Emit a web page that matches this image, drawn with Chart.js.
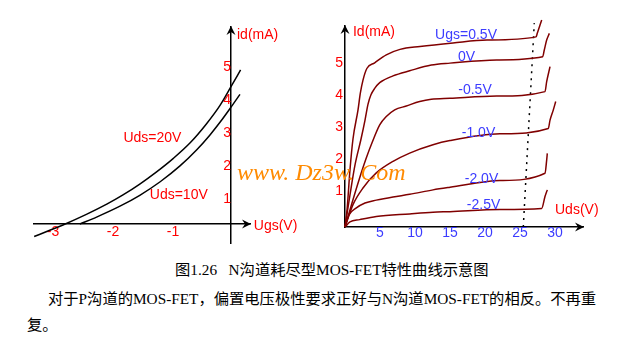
<!DOCTYPE html>
<html>
<head>
<meta charset="utf-8">
<script src="https://cdn.jsdelivr.net/npm/chart.js@4"></script>
<style>
  body { margin: 0; background: #fff; width: 639px; height: 338px; position: relative; overflow: hidden; }
  canvas { position: absolute; top: 0; }
  #left { left: 0; }
  #right { left: 320px; }
  .mark { position: absolute; left: 237px; top: 160px; font-family: "Liberation Serif", serif; font-style: italic;
          font-size: 24px; line-height: 24px; color: #ff8a00; white-space: nowrap; letter-spacing: 0; z-index: 2; }
  .txt { position: absolute; font-family: "Liberation Serif", "Noto Sans CJK SC", serif; font-size: 15.3px;
         line-height: 15px; color: #000; white-space: nowrap; }
</style>
</head>
<body>
<canvas id="left" width="320" height="250"></canvas>
<canvas id="right" width="319" height="250"></canvas>
<div class="mark">www. Dz3w. Com</div>
<div class="txt" style="left:175px; top:262px;">图1.26&nbsp;&nbsp; N沟道耗尽型MOS-FET特性曲线示意图</div>
<div class="txt" style="left:48px; top:291px;">对于P沟道的MOS-FET，偏置电压极性要求正好与N沟道MOS-FET的相反。不再重</div>
<div class="txt" style="left:27px; top:317px;">复。</div>
<script>
// left chart: id vs Ugs
const leftXTicks = [-3, -2, -1];
const leftYTicks = [1, 2, 3, 4, 5];
const ugs20 = [-3.28, -3.02, -2.80, -2.41, -2.07, -1.80, -1.52, -1.24, -0.96, -0.68, -0.41, -0.18, 0, 0.16];
const id20 = [-0.38, -0.19, -0.03, 0.29, 0.60, 0.88, 1.21, 1.58, 1.99, 2.46, 3.03, 3.60, 4.16, 4.67];
const ugs10 = [-2.52, -2.24, -1.85, -1.52, -1.18, -0.85, -0.57, -0.35, -0.18, 0, 0.15];
const id10 = [0, 0.21, 0.54, 0.87, 1.28, 1.76, 2.25, 2.70, 3.09, 3.54, 3.93];

// right chart: Id vs Uds, one curve per Ugs
const rightXTicks = [5, 10, 15, 20, 25, 30];
const rightYTicks = [1, 2, 3, 4, 5];
const curveLabels = ["Ugs=0.5V", "0V", "-0.5V", "-1.0V", "-2.0V", "-2.5V"];
const udsP05 = [0, 0.29, 0.71, 1.14, 1.86, 2.19, 2.57, 3.14, 4.24, 5.9, 7.86, 10.71, 15.43, 20.29, 27.29, 27.47, 27.86, 28.1];
const idP05 = [0, 0.53, 1.78, 2.75, 3.66, 4.18, 4.59, 4.96, 5.13, 5.38, 5.55, 5.64, 5.75, 5.84, 5.94, 6.05, 6.31, 6.47];
const uds0 = [0, 0.71, 1.43, 2.29, 2.86, 3.29, 3.71, 4.24, 4.96, 6.86, 9.24, 12.33, 15, 21.67, 28.24, 28.47, 28.81, 29.19];
const id0 = [0, 1.0, 1.94, 2.75, 3.34, 3.84, 4.13, 4.33, 4.51, 4.72, 4.88, 5.06, 5.12, 5.22, 5.32, 5.53, 5.84, 6.05];
const udsM05 = [0, 1, 2, 3, 3.86, 4.96, 5.9, 7.1, 8.76, 10.67, 12.33, 15, 21.67, 28.57, 28.81, 29.29];
const idM05 = [0, 0.75, 1.47, 2.13, 2.63, 3.19, 3.45, 3.66, 3.78, 3.92, 3.99, 4.02, 4.09, 4.23, 4.54, 5.01];
const udsM10 = [0, 1.14, 2.57, 4.47, 6.86, 9.24, 12.57, 15, 22.14, 29.04, 29.29, 29.76, 30.1];
const idM10 = [0, 0.7, 1.22, 1.69, 2.05, 2.31, 2.57, 2.7, 2.91, 3.08, 3.34, 3.66, 3.92];
const udsM20 = [0, 0.57, 1.57, 2.86, 4.47, 6.86, 9.24, 12.57, 15, 22.14, 28.57, 28.81, 28.9];
const idM20 = [0, 0.38, 0.59, 0.75, 0.84, 0.94, 1.02, 1.16, 1.24, 1.45, 1.68, 2.09, 2.3];
const udsM25 = [0, 0.71, 2.1, 4.47, 9.24, 12.57, 15, 22.14, 28.1, 28.57, 28.9];
const idM25 = [0, 0.16, 0.23, 0.33, 0.41, 0.46, 0.48, 0.55, 0.58, 0.95, 1.16];
// dotted boundary line
const boundUds = [25.47, 27.04];
const boundId = [0, 6.37];

const RED = "#ff0000";
const BLUE = "#3c3cff";
const CURVE = "#800000";
const SANS = '"Liberation Sans", Arial, sans-serif';

const pts = (xs, ys) => xs.map((x, i) => ({ x, y: ys[i] }));

function drawArrow(ctx, x, y, dir) {
  ctx.save();
  ctx.translate(x, y);
  if (dir === "right") ctx.rotate(Math.PI / 2);
  ctx.beginPath();
  ctx.moveTo(0, -1);
  ctx.lineTo(-4.5, 8);
  ctx.lineTo(0, 5);
  ctx.lineTo(4.5, 8);
  ctx.closePath();
  ctx.fillStyle = "#000";
  ctx.fill();
  ctx.restore();
}

// texts are placed in data units, arrows at the axis ends
function decor(texts, arrows) {
  return {
    id: "decor",
    afterDatasetsDraw(chart) {
      const ctx = chart.ctx;
      const xs = chart.scales.x, ys = chart.scales.y;
      ctx.save();
      arrows(chart).forEach(a => drawArrow(ctx, a.x, a.y, a.dir));
      ctx.font = "14px " + SANS;
      ctx.textBaseline = "middle";
      texts.forEach(t => {
        ctx.fillStyle = t.color;
        ctx.textAlign = t.align || "center";
        ctx.fillText(t.text, xs.getPixelForValue(t.x), ys.getPixelForValue(t.y));
      });
      ctx.restore();
    }
  };
}

const line = (data, color, extra) => Object.assign({
  data, borderColor: color, borderWidth: 1.5, pointRadius: 0,
  cubicInterpolationMode: "monotone", clip: false, fill: false
}, extra || {});

const tickFont = { size: 14, family: SANS };

new Chart(document.getElementById("left"), {
  type: "line",
  data: {
    datasets: [
      line(pts(ugs20, id20), "#000"),
      line(pts(ugs10, id10), "#000")
    ]
  },
  options: {
    responsive: false, animation: false, events: [],
    layout: { padding: { left: 34, right: 70, top: 27, bottom: 7 } },
    plugins: { legend: { display: false }, tooltip: { enabled: false } },
    scales: {
      x: {
        type: "linear", min: -3.283, max: 0.317, position: { y: 0 },
        grid: { display: false, drawTicks: false },
        border: { color: "#000", width: 1.5 },
        ticks: { color: RED, font: tickFont, padding: 0, labelOffset: 2, autoSkip: false, maxRotation: 0 },
        afterBuildTicks: s => { s.ticks = leftXTicks.map(v => ({ value: v })); }
      },
      y: {
        type: "linear", min: -0.576, max: 5.97, position: { x: 0 },
        grid: { display: false, drawTicks: false },
        border: { color: "#000", width: 1.5 },
        ticks: { color: RED, font: tickFont, padding: -7, labelOffset: 8, autoSkip: false },
        afterBuildTicks: s => { s.ticks = leftYTicks.map(v => ({ value: v })); }
      }
    }
  },
  plugins: [decor([
    { text: "id(mA)", x: 0.1, y: 5.73, align: "left", color: RED },
    { text: "Ugs(V)", x: 0.38, y: -0.06, align: "left", color: RED },
    { text: "Uds=20V", x: -1.31, y: 2.61, color: RED },
    { text: "Uds=10V", x: -0.87, y: 0.88, color: RED }
  ], c => [
    { x: c.scales.x.getPixelForValue(0), y: c.chartArea.top, dir: "up" },
    { x: c.chartArea.right, y: c.scales.y.getPixelForValue(0), dir: "right" }
  ])]
});

new Chart(document.getElementById("right"), {
  type: "line",
  data: {
    datasets: [
      line(pts(udsP05, idP05), CURVE),
      line(pts(uds0, id0), CURVE),
      line(pts(udsM05, idM05), CURVE),
      line(pts(udsM10, idM10), CURVE),
      line(pts(udsM20, idM20), CURVE),
      line(pts(udsM25, idM25), CURVE),
      line(pts(boundUds, boundId), "#000", { borderDash: [2, 5], cubicInterpolationMode: "default" })
    ]
  },
  options: {
    responsive: false, animation: false, events: [],
    layout: { padding: { left: 0, right: 56, top: 26, bottom: 0 } },
    plugins: { legend: { display: false }, tooltip: { enabled: false } },
    scales: {
      x: {
        type: "linear", min: 0, max: 34, position: "bottom",
        grid: { display: false, drawTicks: false },
        border: { color: "#000", width: 1.5 },
        ticks: { color: BLUE, font: tickFont, padding: -2, autoSkip: false, maxRotation: 0 },
        afterBuildTicks: s => { s.ticks = rightXTicks.map(v => ({ value: v })); },
        afterFit: s => { s.height = 23; }
      },
      y: {
        type: "linear", min: 0, max: 6.28, position: "left",
        grid: { display: false, drawTicks: false },
        border: { color: "#000", width: 1.5 },
        ticks: { color: RED, font: tickFont, padding: 2, labelOffset: -4, autoSkip: false },
        afterBuildTicks: s => { s.ticks = rightYTicks.map(v => ({ value: v })); },
        afterFit: s => { s.width = 25; }
      }
    }
  },
  plugins: [decor([
    { text: "Id(mA)", x: 1.14, y: 6.09, align: "left", color: RED },
    { text: "Uds(V)", x: 30, y: 0.53, align: "left", color: RED },
    { text: curveLabels[0], x: 17.29, y: 6.0, color: BLUE },
    { text: curveLabels[1], x: 17.36, y: 5.31, color: BLUE },
    { text: curveLabels[2], x: 18.57, y: 4.28, color: BLUE },
    { text: curveLabels[3], x: 19.07, y: 2.94, color: BLUE },
    { text: curveLabels[4], x: 19.5, y: 1.5, color: BLUE },
    { text: curveLabels[5], x: 19.79, y: 0.69, color: BLUE }
  ], c => [
    { x: c.chartArea.left, y: c.chartArea.top, dir: "up" },
    { x: c.chartArea.right, y: c.chartArea.bottom, dir: "right" }
  ])]
});
</script>
</body>
</html>
